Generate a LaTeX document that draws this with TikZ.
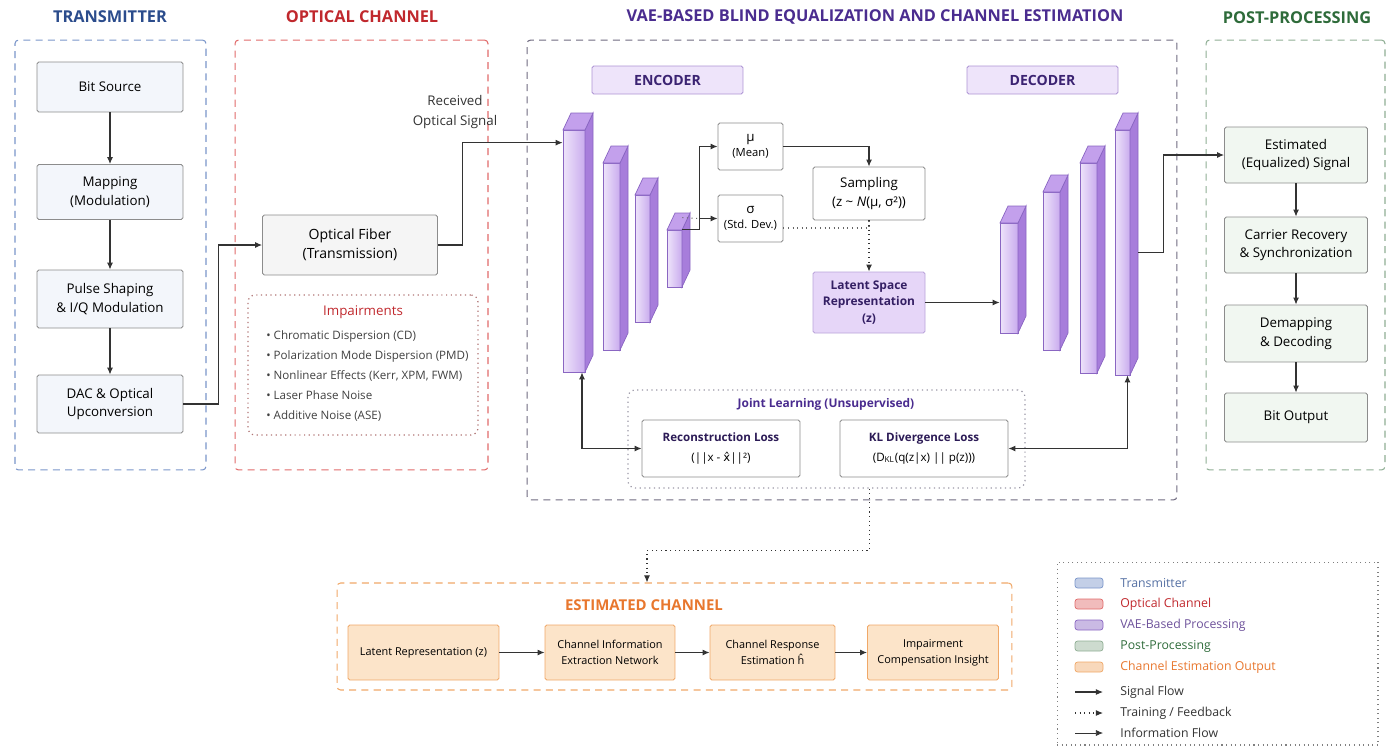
\documentclass[tikz,border=0pt]{standalone}
\usepackage{fontspec}
\setmainfont{Open Sans}
\newfontfamily\dejavu{DejaVu Sans}
\usetikzlibrary{positioning,fit,arrows.meta}

\definecolor{txblue}{HTML}{2B4C8C}
\definecolor{txline}{HTML}{7A95C9}
\definecolor{txfill}{HTML}{F3F6FB}
\definecolor{chred}{HTML}{C0282D}
\definecolor{chline}{HTML}{E06A6A}
\definecolor{vaepurple}{HTML}{4A2C8F}
\definecolor{vaeline}{HTML}{6F6A80}
\definecolor{ppgreen}{HTML}{2E6B3A}
\definecolor{ppline}{HTML}{8FAE94}
\definecolor{ppfill}{HTML}{F1F7F1}
\definecolor{estorange}{HTML}{E8772E}
\definecolor{estline}{HTML}{F0A868}
\definecolor{estfill}{HTML}{FCE4C9}
\definecolor{boxgray}{HTML}{8C8C8C}
\definecolor{barlight}{HTML}{EEE4FA}
\definecolor{barmid}{HTML}{C9ABEE}
\definecolor{barside}{HTML}{A77DDB}
\definecolor{bartop}{HTML}{C3A0EC}
\definecolor{barline}{HTML}{8A66C2}
\definecolor{latfill}{HTML}{E6D6F8}

\tikzset{
  zone/.style={draw, line width=0.6pt, dash pattern=on 4pt off 3pt, rounded corners=2pt},
  title/.style={font=\fontsize{9.3}{11}\selectfont\bfseries},
  blk/.style={draw=boxgray, line width=0.5pt, rounded corners=1pt, align=center, inner sep=1pt, font=\fontsize{7.6}{10.5}\selectfont},
  txbox/.style={blk, fill=txfill, minimum width=2.92cm},
  ppbox/.style={blk, fill=ppfill, minimum width=2.86cm},
  vaebox/.style={blk, fill=white},
  estbox/.style={blk, draw=estline, fill=estfill, minimum height=1.1cm, font=\fontsize{6.2}{9}\selectfont},
  lbox/.style={blk, draw=barline!70, fill=barlight, font=\fontsize{8}{10}\selectfont\bfseries, text=vaepurple!80!black},
  sig/.style={line width=0.6pt, draw=black!80, -{Latex[length=4pt,width=3.4pt]}},
  fb/.style={sig, dotted},
  fbline/.style={line width=0.6pt, draw=black!60, dotted},
  both/.style={sig, {Latex[length=4pt,width=3.4pt]}-{Latex[length=4pt,width=3.4pt]}},
  swatch/.style={draw=#1, fill=#1!45, rounded corners=1.5pt, minimum width=0.56cm, minimum height=0.2cm, inner sep=0pt},
  legtext/.style={anchor=west, inner sep=0pt, font=\fontsize{7}{8}\selectfont},
}

% one layer of the network, drawn as a bar: name, x, top, bottom, width
\newcommand{\vaebar}[5]{%
  \shadedraw[left color=barlight, right color=barmid, draw=barline, line width=0.4pt] (#2,#3) rectangle (#2+#5,#4);
  \filldraw[fill=barside, draw=barline, line width=0.4pt] (#2+#5,#3) -- ++(8,-17) -- ++(0,#4-#3) -- (#2+#5,#4) -- cycle;
  \filldraw[fill=bartop, draw=barline, line width=0.4pt] (#2,#3) -- ++(8,-17) -- ++(#5,0) -- (#2+#5,#3) -- cycle;
  \node[fit={(#2,#3) (#2+#5,#4)}, inner sep=0pt] (#1) {};
}

\begin{document}
\begin{tikzpicture}[x=0.02cm, y=-0.02cm]
    \useasboundingbox (0,0) rectangle (1389,751);

    % Frames
    \node[zone, draw=txline, minimum width=3.82cm, minimum height=8.6cm] (f-tx) at (110.5,255) {};
    \node[zone, draw=chline, minimum width=5.06cm, minimum height=8.6cm] (f-ch) at (361.5,255) {};
    \node[zone, draw=vaeline, minimum width=13cm, minimum height=9.2cm] (f-vae) at (852,270) {};
    \node[zone, draw=ppline, minimum width=3.58cm, minimum height=8.6cm] (f-pp) at (1295.5,255) {};
    \node[zone, draw=estline, minimum width=13.5cm, minimum height=2.14cm] (estch) at (674.5,636.5) {};

    % Titles
    \node[title, text=txblue] (t-tx) at (110,17) {TRANSMITTER};
    \node[title, text=chred] (t-ch) at (362,17) {OPTICAL CHANNEL};
    \node[title, text=vaepurple] (t-vae) at (875,17) {VAE-BASED BLIND EQUALIZATION AND CHANNEL ESTIMATION};
    \node[title, text=ppgreen] (t-pp) at (1297,18) {POST-PROCESSING};

    % Transmitter
    \node[txbox, minimum height=1.0cm] (bits) at (110,87) {Bit Source};
    \node[txbox, minimum height=1.1cm] (map) at (110,192) {Mapping\\(Modulation)};
    \node[txbox, minimum height=1.16cm] (pulse) at (110,299) {Pulse Shaping\\\& I/Q Modulation};
    \node[txbox, minimum height=1.16cm] (dac) at (110,404) {DAC \& Optical\\Upconversion};
    \draw[sig] (bits) -- (map);
    \draw[sig] (map) -- (pulse);
    \draw[sig] (pulse) -- (dac);

    % Optical channel
    \node[blk, fill=black!4, minimum width=3.5cm, minimum height=1.2cm, font=\fontsize{8}{11}\selectfont] (fiber) at (350,245) {Optical Fiber\\(Transmission)};
    \node[draw=chline!50!gray, dotted, line width=0.7pt, rounded corners=4pt, minimum width=4.6cm, minimum height=2.8cm] (imp) at (363,365) {};
    \node[text=chred, font=\fontsize{7.6}{9}\selectfont] (imp-t) at (363,312) {Impairments};
    \node[anchor=north west, align=left, inner sep=0pt, text=black!75, font=\fontsize{6.6}{11.5}\selectfont] (imp-l) at (266,330)
        {• Chromatic Dispersion (CD)\\• Polarization Mode Dispersion (PMD)\\• Nonlinear Effects (Kerr, XPM, FWM)\\• Laser Phase Noise\\• Additive Noise (ASE)};
    \node[align=center, text=black!80, font=\fontsize{7.6}{11.3}\selectfont] (rx-lbl) at (455,112) {Received\\Optical Signal};
    \draw[sig] (dac.east) -- ++(35,0) |- (fiber.west);

    % Encoder and decoder
    \node[lbox, minimum width=3.02cm, minimum height=0.56cm] (enc) at (667.5,80) {ENCODER};
    \node[lbox, minimum width=3.02cm, minimum height=0.56cm] (dec) at (1042.5,80) {DECODER};
    \vaebar{e1}{563}{130}{372}{22}
    \vaebar{e2}{603}{163}{350}{17}
    \vaebar{e3}{635}{195}{322}{15}
    \vaebar{e4}{667}{230}{287}{15}
    \vaebar{d1}{1000}{223}{333}{18}
    \vaebar{d2}{1043}{192}{350}{17}
    \vaebar{d3}{1080}{163}{373}{17}
    \vaebar{d4}{1115}{130}{375}{15}
    \draw[sig] (fiber.east) -- ++(25,0) |- ([yshift=-0.26cm]e1.north west);

    % Latent
    \node[vaebox, minimum width=1.3cm, minimum height=0.94cm] (mu) at (750.5,146.5) {μ\\[-2pt]{\fontsize{6.4}{8}\selectfont (Mean)}};
    \node[vaebox, minimum width=1.3cm, minimum height=0.94cm] (sigma) at (750.5,218.5) {σ\\[-2pt]{\fontsize{6.4}{8}\selectfont (Std. Dev.)}};
    \node[vaebox, minimum width=2.24cm, minimum height=1.06cm] (samp) at (869,193.5) {Sampling\\(z \textasciitilde{} \textit{N}(μ, σ²))};
    \node[blk, fill=latfill, draw=barline!60, minimum width=2.24cm, minimum height=1.22cm, text=vaepurple!70!black, font=\fontsize{6.8}{9.5}\selectfont\bfseries] (lat) at (869,302.5) {Latent Space\\Representation\\(z)};
    \draw[sig] (e4.north east) -- ++(17,0) coordinate (split) |- (mu.west);
    \draw[fbline] ([yshift=0.24cm]e4.north east) -- (split |- sigma.west);
    \draw[sig] (split |- sigma.west) -- (sigma.west);
    \draw[sig] (mu.east) -| (samp.north);
    \draw[fbline] ([yshift=-0.19cm]sigma.east) -| (samp.south);
    \draw[fb] (samp.south) -- (lat.north);
    \draw[sig] (lat.east) -- (lat.east -| d1.west);

    % Losses
    \node[draw=vaeline!70, dotted, line width=0.7pt, rounded corners=4pt, minimum width=7.94cm, minimum height=1.96cm] (jl) at (826.5,439) {};
    \node[text=vaepurple, font=\fontsize{6.8}{8}\selectfont\bfseries] (jl-t) at (826,404) {Joint Learning (Unsupervised)};
    \node[vaebox, minimum width=3.16cm, minimum height=1.14cm, font=\fontsize{6.6}{11}\selectfont] (rec) at (721,448.5)
        {\textcolor{vaepurple!60!black}{\bfseries Reconstruction Loss}\\(||x - {\dejavu x̂}||²)};
    \node[vaebox, minimum width=3.36cm, minimum height=1.14cm, font=\fontsize{6.6}{11}\selectfont] (kl) at (924,448.5)
        {\textcolor{vaepurple!60!black}{\bfseries KL Divergence Loss}\\(D\textsubscript{KL}(q(z|x) || p(z)))};
    \draw[both] ([xshift=0.16cm]e1.south) |- (rec.west);
    \draw[both] (kl.east) -| ([xshift=0.1cm]d4.south);

    % Post-processing
    \node[ppbox, minimum height=1.12cm] (est) at (1296,155) {Estimated\\(Equalized) Signal};
    \node[ppbox, minimum height=1.12cm] (car) at (1296,245) {Carrier Recovery\\\& Synchronization};
    \node[ppbox, minimum height=1.14cm] (dem) at (1296,333.5) {Demapping\\\& Decoding};
    \node[ppbox, minimum height=0.98cm] (bito) at (1296,417.5) {Bit Output};
    \draw[sig] ([xshift=0.16cm]d4.east) -- ++(25,0) |- (est.west);
    \draw[sig] (est) -- (car);
    \draw[sig] (car) -- (dem);
    \draw[sig] (dem) -- (bito);

    % Estimated channel
    \node[text=estorange, font=\fontsize{8.5}{10}\selectfont\bfseries] (estch-t) at (644,605) {ESTIMATED CHANNEL};
    \node[estbox, minimum width=3.02cm] (lr) at (423.5,652.5) {Latent Representation (z)};
    \node[estbox, minimum width=2.6cm] (cie) at (610,652.5) {Channel Information\\Extraction Network};
    \node[estbox, minimum width=2.5cm] (cre) at (772.5,652.5) {Channel Response\\Estimation ĥ};
    \node[estbox, minimum width=2.62cm] (ici) at (933,652.5) {Impairment\\Compensation Insight};
    \draw[sig] (lr) -- (cie);
    \draw[sig] (cie) -- (cre);
    \draw[sig] (cre) -- (ici);
    \draw[fb] ([xshift=0.86cm]jl.south) -- ++(0,62) -| ([xshift=-0.55cm]estch.north);

    % Legend
    \node[draw=black!50, dotted, line width=0.6pt, minimum width=6.42cm, minimum height=3.66cm] (leg) at (1217.5,653.5) {};
    \node[swatch=txline] (sw1) at (1089,583) {};
    \node[swatch=chline] (sw2) at (1089,604) {};
    \node[swatch=barline] (sw3) at (1089,625) {};
    \node[swatch=ppline] (sw4) at (1089,646) {};
    \node[swatch=estline] (sw5) at (1089,667) {};
    \node[legtext, text=txblue!80] (lg1) at (1120,583) {Transmitter};
    \node[legtext, text=chred] (lg2) at (1120,604) {Optical Channel};
    \node[legtext, text=barline!80!black] (lg3) at (1120,625) {VAE-Based Processing};
    \node[legtext, text=ppgreen] (lg4) at (1120,646) {Post-Processing};
    \node[legtext, text=estorange] (lg5) at (1120,667) {Channel Estimation Output};
    \coordinate (ln1a) at (1075,692); \coordinate (ln1b) at (1103,692);
    \coordinate (ln2a) at (1075,713); \coordinate (ln2b) at (1103,713);
    \coordinate (ln3a) at (1075,733); \coordinate (ln3b) at (1103,733);
    \draw[sig] (ln1a) -- (ln1b);
    \draw[fb] (ln2a) -- (ln2b);
    \draw[sig, line width=0.4pt] (ln3a) -- (ln3b);
    \node[legtext, text=black!80] (lg6) at (1120,692) {Signal Flow};
    \node[legtext, text=black!80] (lg7) at (1120,713) {Training / Feedback};
    \node[legtext, text=black!80] (lg8) at (1120,733) {Information Flow};
\end{tikzpicture}
\end{document}
